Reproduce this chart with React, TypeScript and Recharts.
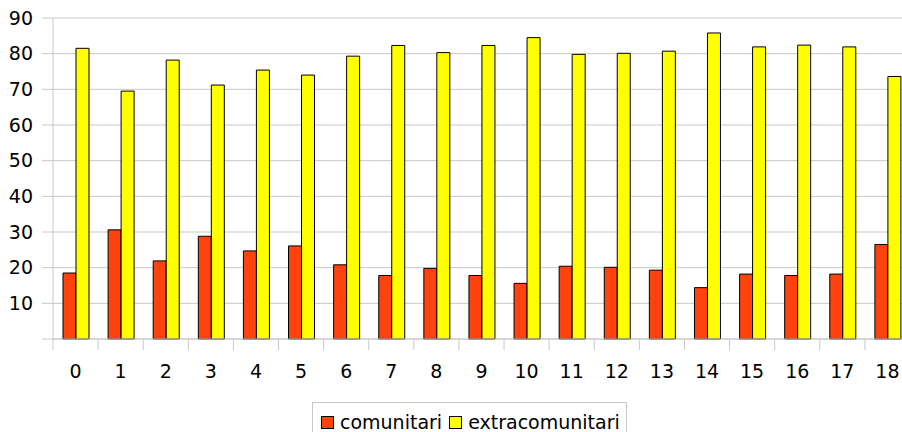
import React from "react";
import { BarChart, Bar, XAxis, YAxis, CartesianGrid, Legend } from "recharts";

const categories = ["0", "1", "2", "3", "4", "5", "6", "7", "8", "9", "10", "11", "12", "13", "14", "15", "16", "17", "18"];
const comunitari = [18.5, 30.6, 21.9, 28.8, 24.7, 26.1, 20.8, 17.8, 19.8, 17.8, 15.6, 20.4, 20.1, 19.3, 14.4, 18.2, 17.8, 18.2, 26.5];
const extracomunitari = [81.5, 69.5, 78.2, 71.2, 75.4, 74.0, 79.3, 82.3, 80.3, 82.3, 84.5, 79.8, 80.1, 80.7, 85.8, 81.9, 82.4, 81.9, 73.6];
const yTicks = [0, 10, 20, 30, 40, 50, 60, 70, 80, 90];

const data = categories.map((name, i) => ({
  name,
  comunitari: comunitari[i],
  extracomunitari: extracomunitari[i],
}));

const RED = "#ff420e";
const YELLOW = "#ffff00";
const GRID = "#c8c8c8";
const FONT = "DejaVu Sans";
const FS = 19;

const CHART_W = 920;
const MARGIN = { top: 18, right: 10, bottom: 13, left: 0 };
const Y_W = 53;
const BAND = (CHART_W - MARGIN.left - MARGIN.right - Y_W) / categories.length;

const XTick = (props: any) => {
  const { x, y, payload, index } = props;
  const y0 = y - 26;
  return (
    <g>
      <line x1={x - BAND / 2} x2={x - BAND / 2} y1={y0} y2={y0 + 11} stroke={GRID} />
      {index === categories.length - 1 && (
        <line x1={x + BAND / 2} x2={x + BAND / 2} y1={y0} y2={y0 + 11} stroke={GRID} />
      )}
      <text x={x} y={y} dy="0.71em" textAnchor="middle" fontSize={FS} fontFamily={FONT} fill="#000">
        {payload.value}
      </text>
    </g>
  );
};

const LegendBox = () => (
  <div
    style={{
      border: `1px solid ${GRID}`,
      height: 40,
      boxSizing: "border-box",
      display: "flex",
      alignItems: "flex-start",
      paddingLeft: 8,
      paddingRight: 6,
      paddingTop: 8,
      fontFamily: FONT,
      fontSize: FS,
      color: "#000",
      background: "#fff",
    }}
  >
    {[
      { label: "comunitari", color: RED },
      { label: "extracomunitari", color: YELLOW },
    ].map((s, i) => (
      <span key={s.label} style={{ display: "flex", alignItems: "center", marginLeft: i ? 7 : 0, lineHeight: "22px" }}>
        <span style={{ width: 11, height: 11, background: s.color, border: "1px solid #000", marginRight: 6, display: "inline-block" }} />
        {s.label}
      </span>
    ))}
  </div>
);

export default function App() {
  return (
    <div style={{ position: "absolute", left: 0, top: 0, width: 902, height: 432, overflow: "hidden", background: "#fff" }}>
      <BarChart width={CHART_W} height={432} data={data} margin={MARGIN} barGap={0} barSize={13}>
        <CartesianGrid vertical={false} stroke={GRID} />
        <XAxis
          dataKey="name"
          height={40}
          axisLine={{ stroke: GRID }}
          tickLine={false}
          tickSize={11}
          tickMargin={15}
          interval={0}
          tick={<XTick />}
        />
        <YAxis
          width={Y_W}
          domain={[0, 90]}
          ticks={yTicks}
          interval={0}
          axisLine={{ stroke: GRID }}
          tickLine={{ stroke: GRID }}
          tickSize={11}
          tickMargin={9}
          tickFormatter={(v: number) => (v === 0 ? "" : String(v))}
          tick={{ fontSize: FS, fontFamily: FONT, fill: "#000" }}
        />
        <Legend
          verticalAlign="bottom"
          height={40}
          content={() => <LegendBox />}
          wrapperStyle={{ position: "absolute", top: 402, left: 312, width: "auto", height: 40 }}
        />
        <Bar dataKey="comunitari" fill={RED} stroke="#000" strokeWidth={1} isAnimationActive={false} />
        <Bar dataKey="extracomunitari" fill={YELLOW} stroke="#000" strokeWidth={1} isAnimationActive={false} />
      </BarChart>
    </div>
  );
}
